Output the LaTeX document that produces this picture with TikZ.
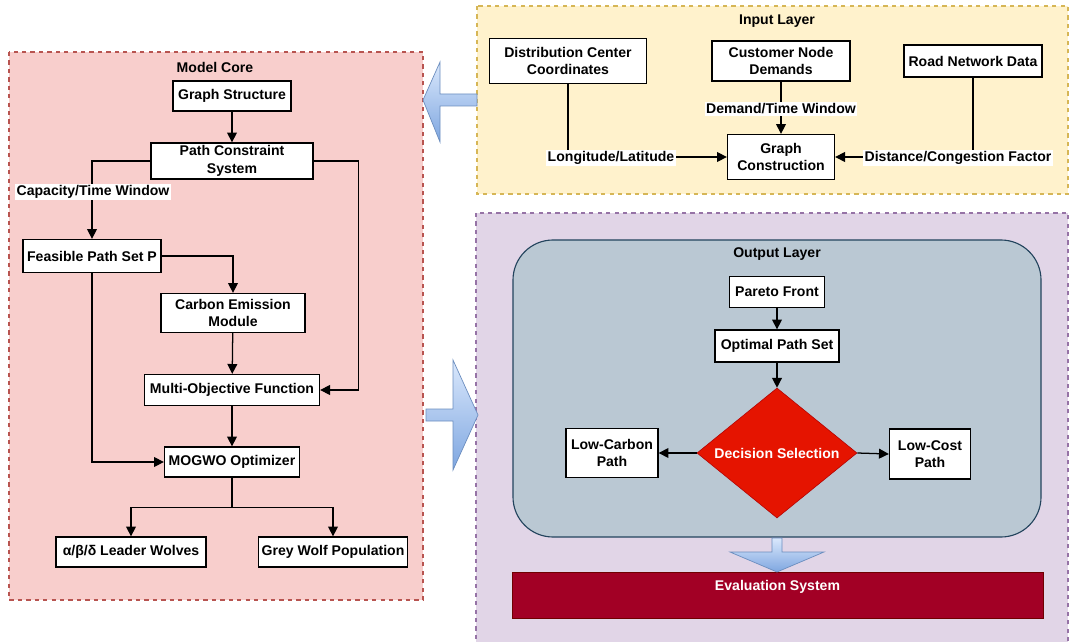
\documentclass[tikz,border=0pt]{standalone}
\usepackage{fontspec}
\setmainfont{Liberation Sans}
\usetikzlibrary{shapes.geometric,arrows.meta}
\definecolor{corefill}{HTML}{F8CECC}
\definecolor{coreline}{HTML}{B85450}
\definecolor{infill}{HTML}{FFF2CC}
\definecolor{inline}{HTML}{D6B656}
\definecolor{outfill}{HTML}{E1D5E7}
\definecolor{outline}{HTML}{9673A6}
\definecolor{layfill}{HTML}{BAC8D3}
\definecolor{layline}{HTML}{23445D}
\definecolor{decfill}{HTML}{E51400}
\definecolor{decline}{HTML}{B20000}
\definecolor{evalfill}{HTML}{A20025}
\definecolor{evalline}{HTML}{6F0000}
\definecolor{arrlight}{HTML}{DAE8FC}
\definecolor{arrdark}{HTML}{7EA6E0}
\definecolor{arrline}{HTML}{6C8EBF}

\begin{document}
\begin{tikzpicture}[x=0.025cm, y=-0.025cm,
    font=\bfseries\fontsize{10}{12.5}\selectfont,
    box/.style = {draw, line width=0.9pt, fill=white, align=center, inner sep=1pt},
    lbl/.style = {fill=white, inner sep=1pt},
    ttl/.style = {inner sep=0pt},
    blk/.style = {draw=arrline, line width=0.5pt, top color=arrlight, bottom color=arrdark},
    >={Triangle[length=7pt, width=7pt]}]
    \useasboundingbox (0,0) rectangle (1070,642);

    % layers
    \draw[coreline, fill=corefill, dashed, line width=0.8pt] (9,52) rectangle (423,600);
    \draw[inline, fill=infill, dashed, line width=0.8pt] (477,6) rectangle (1068,194);
    \draw[outline, fill=outfill, dashed, line width=0.8pt] (476,213) rectangle (1068,650);
    \draw[layline, fill=layfill, line width=0.8pt, rounded corners=1cm] (513,240) rectangle (1041,537);

    \node[ttl] (tcore) at (215,67)  {Model Core};
    \node[ttl] (tin)   at (777,21)  {Input Layer};
    \node[ttl] (tout)  at (777,254) {Output Layer};

    % input layer
    \node[box, minimum width=3.925cm, minimum height=1.125cm] (dcc) at (568,61) {Distribution Center\\Coordinates};
    \node[box, minimum width=3.45cm, minimum height=1cm] (cnd) at (781,61) {Customer Node\\Demands};
    \node[box, minimum width=3.45cm, minimum height=0.8cm] (rnd) at (973,61) {Road Network Data};
    \node[box, minimum width=2.675cm, minimum height=1.125cm] (gc) at (781,157) {Graph\\Construction};

    \draw [->, line width=0.9pt] (dcc.south) |- (gc.west);
    \draw [->, line width=0.9pt] (cnd.south) -- (gc.north);
    \draw [->, line width=0.9pt] (rnd.south) |- (gc.east);
    \node[lbl] (llon) at (611,158) {Longitude/Latitude};
    \node[lbl] (ldem) at (781,109) {Demand/Time Window};
    \node[lbl] (ldis) at (958,158) {Distance/Congestion Factor};

    % model core
    \node[box, minimum width=2.95cm, minimum height=0.75cm] (gs) at (232,96) {Graph Structure};
    \node[box, minimum width=4.05cm, minimum height=0.9cm] (pcs) at (232,161) {Path Constraint\\System};
    \node[box, minimum width=3.45cm, minimum height=0.825cm] (fps) at (92,256) {Feasible Path Set P};
    \node[box, minimum width=3.6cm, minimum height=0.975cm] (cem) at (233,313) {Carbon Emission\\Module};
    \node[box, minimum width=4.375cm, minimum height=0.775cm] (mof) at (232,390) {Multi-Objective Function};
    \node[box, minimum width=3.375cm, minimum height=0.75cm] (mog) at (232,462) {MOGWO Optimizer};
    \node[box, minimum width=3.75cm, minimum height=0.75cm] (lw) at (131,552) {α/β/δ Leader Wolves};
    \node[box, minimum width=3.725cm, minimum height=0.75cm] (gw) at (333,552) {Grey Wolf Population};

    \draw [->, line width=0.9pt] (gs) -- (pcs);
    \draw [->, line width=0.9pt] (pcs.west) -| (fps.north);
    \node[lbl] (lcap) at (93,192) {Capacity/Time Window};
    \draw [->, line width=0.9pt] (fps.east) -| (cem.north);
    \draw [->, line width=0.9pt] (pcs.east) -- ++(45,0) |- (mof.east);
    \draw [->, line width=0.9pt] (cem) -- (mof);
    \draw [->, line width=0.9pt] (fps.south) |- (mog.west);
    \draw [->, line width=0.9pt] (mof) -- (mog);
    \draw [->, line width=0.9pt] (mog.south) -- ++(0,30) -| (lw.north);
    \draw [->, line width=0.9pt] (mog.south) -- ++(0,30) -| (gw.north);

    % output layer
    \node[box, minimum width=2.375cm, minimum height=0.775cm] (pf) at (777,292) {Pareto Front};
    \node[box, minimum width=3.1cm, minimum height=0.8cm] (ops) at (777,346) {Optimal Path Set};
    \node[diamond, aspect=1.23, inner sep=0pt, draw=decline, fill=decfill, text=white,
          minimum width=4cm, minimum height=3.25cm] (ds) at (777,453) {Decision Selection};
    \node[box, minimum width=2.3cm, minimum height=1.225cm] (lc) at (612,453) {Low-Carbon\\Path};
    \node[box, minimum width=2.025cm, minimum height=1.25cm] (lco) at (930,454) {Low-Cost\\Path};
    \node[draw=evalline, fill=evalfill, text=white, minimum width=13.275cm, minimum height=1.15cm,
          inner sep=0pt, text depth=13pt] (ev) at (777.5,595) {Evaluation System};

    \draw [->, line width=0.9pt] (pf) -- (ops);
    \draw [->, line width=0.9pt] (ops) -- (ds);
    \draw [->, line width=0.9pt] (ds.west) -- (lc.east);
    \draw [->, line width=0.9pt] (ds.east) -- (lco.west);

    % block arrows
    \draw[blk] (423,100) -- (440,62) -- (440,94) -- (477,94) -- (477,106) -- (440,106) -- (440,142) -- cycle;
    \draw[blk] (478,415) -- (453,360) -- (453,409) -- (426,409) -- (426,421) -- (453,421) -- (453,470) -- cycle;
    \draw[blk] (777,572) -- (730,552) -- (772,552) -- (772,538) -- (782,538) -- (782,552) -- (824,552) -- cycle;
\end{tikzpicture}
\end{document}
